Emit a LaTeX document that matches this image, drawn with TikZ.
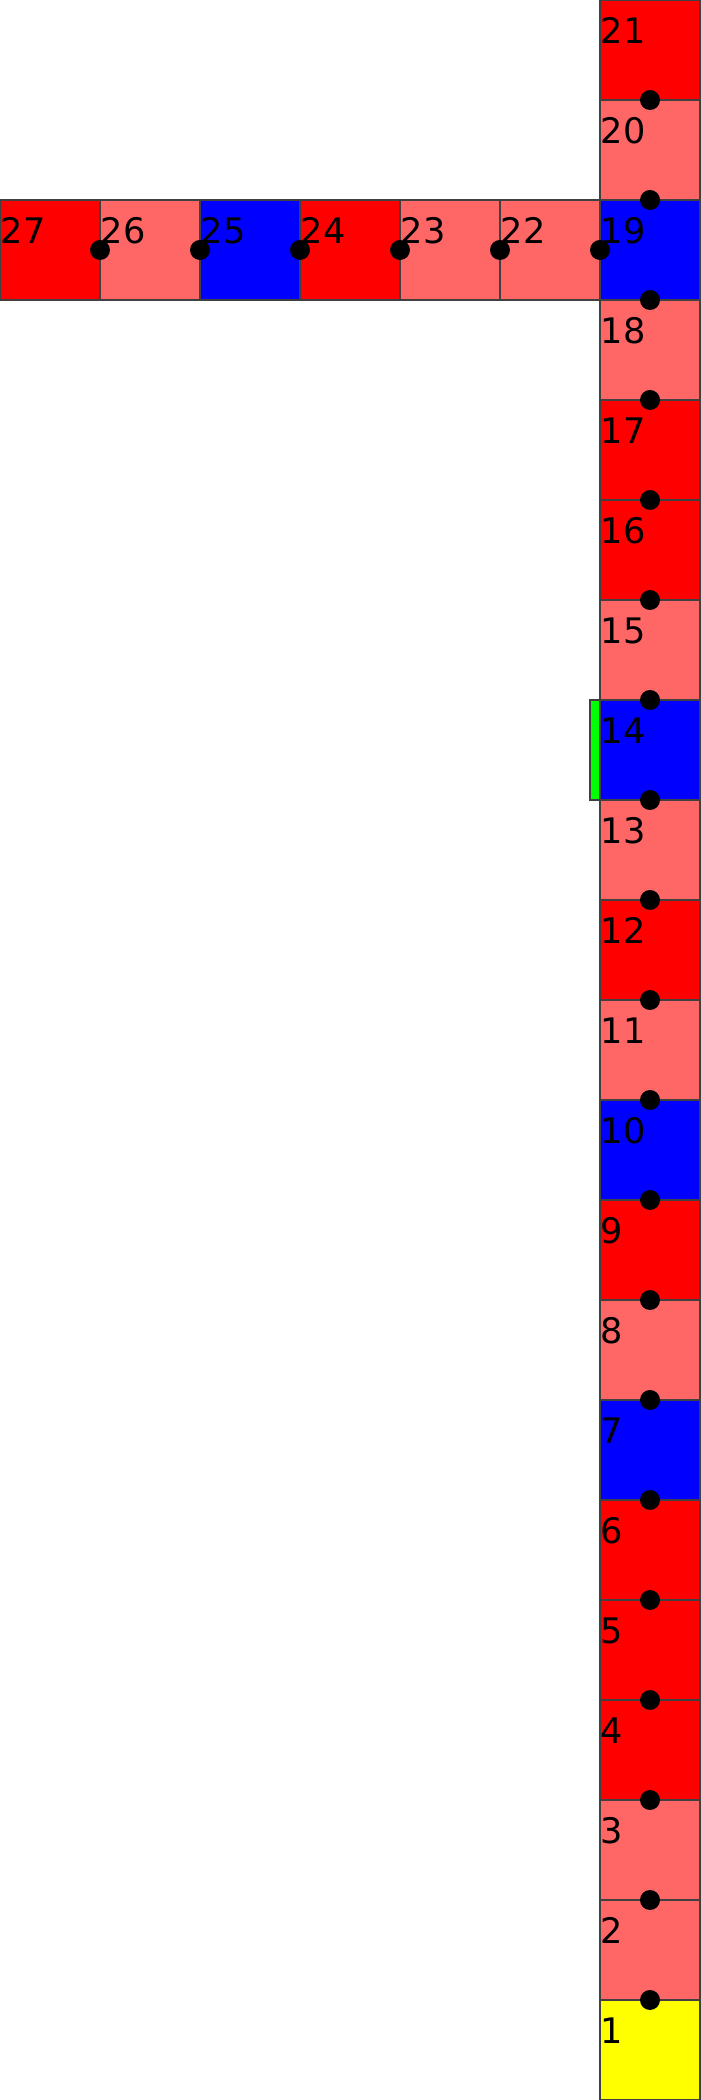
\documentclass[tikz,border=0pt]{standalone}
\usepackage{fontspec}
\setmainfont{DejaVu Sans}
\definecolor{pale}{HTML}{FF6666}
\definecolor{sun}{HTML}{FFFF00}
\definecolor{lime}{HTML}{00FF00}
\begin{document}
\begin{tikzpicture}[x=1cm,y=1cm,
  cell/.style={draw=black!75,line width=0.35pt,minimum size=1cm,inner sep=0pt,outer sep=0pt,anchor=south west},
  num/.style={anchor=north west,inner sep=0pt,font=\fontsize{10}{11}\selectfont,yshift=-0.17cm},
  dot/.style={circle,fill=black,inner sep=0pt,minimum size=0.2cm}]
  \useasboundingbox (0,0) rectangle (7,21);
  % column: squares 1..21
  \foreach \i/\c in {1/sun,2/pale,3/pale,4/red,5/red,6/red,7/blue,8/pale,9/red,10/blue,
     11/pale,12/red,13/pale,14/blue,15/pale,16/red,17/red,18/pale,19/blue,20/pale,21/red} {
     \node[cell,fill=\c] (c\i) at (6,\i-1) {};
     \node[num] (n\i) at (c\i.north west) {\i};
  }
  % row: squares 22..27
  \foreach \i/\c in {22/pale,23/pale,24/red,25/blue,26/pale,27/red} {
     \pgfmathtruncatemacro{\x}{27-\i}
     \node[cell,fill=\c] (c\i) at (\x,18) {};
     \node[num] (n\i) at (c\i.north west) {\i};
  }
  \node[cell,fill=lime,minimum width=0.1cm,anchor=south east] (flag) at (c14.south west) {};
  % dots between neighbours
  \foreach \i in {1,...,20} \node[dot] (d\i) at (c\i.north) {};
  \foreach \i in {19,22,23,24,25,26} \node[dot] (e\i) at (c\i.west) {};
\end{tikzpicture}
\end{document}
